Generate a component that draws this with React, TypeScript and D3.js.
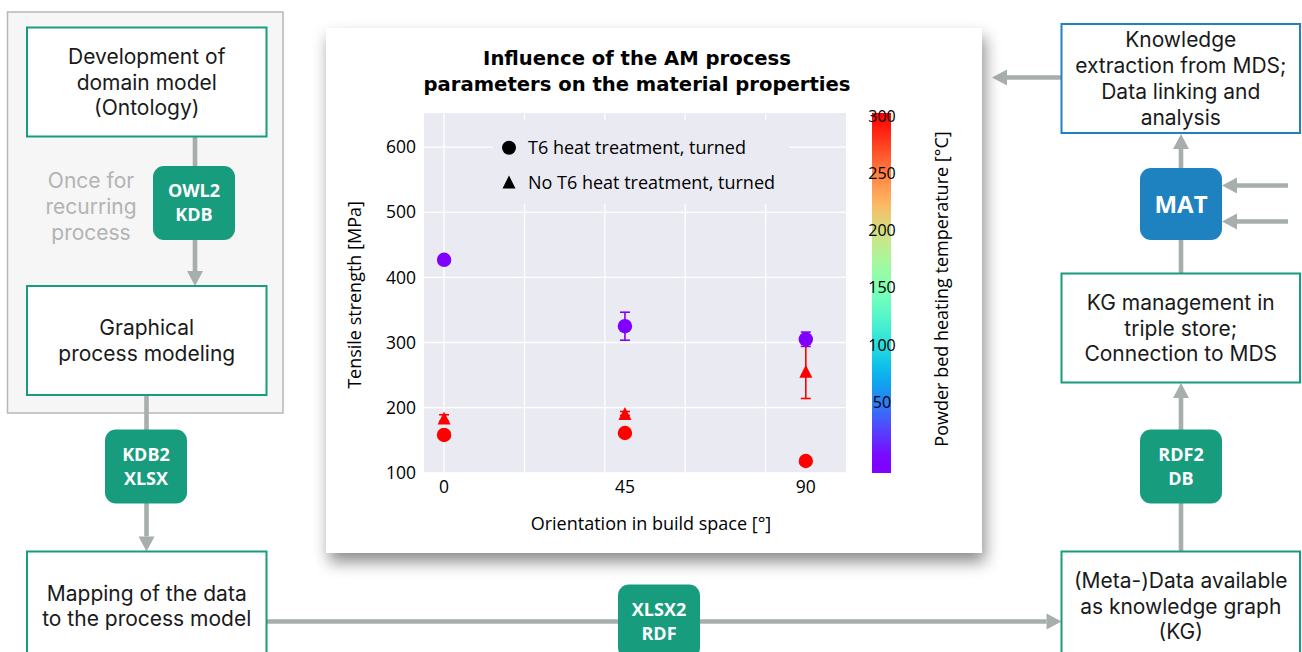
import React from "react";
import * as d3 from "d3";

// ---------- data ----------
const orientations = [0, 45, 90];
const t6LowTempStrength = [427, 325, 305];
const t6LowTempError = [0, 21.5, 11];
const t6HighTempStrength = [158, 161, 118];
const t6HighTempError = [0, 0, 0];
const noT6HighTempStrength = [184, 191, 256];
const noT6HighTempError = [5, 3, 42];
const lowHeatingTemp = 0;
const highHeatingTemp = 300;

const yTicks = [100, 200, 300, 400, 500, 600];
const xTickLabels = [0, 45, 90];
const xGridValues = [0, 20, 40, 60, 80];
const colorbarTicks = [50, 100, 150, 200, 250, 300];

const legendLabels = ["T6 heat treatment, turned", "No T6 heat treatment, turned"];
const titleLines = ["Influence of the AM process", "parameters on the material properties"];

// ---------- styles ----------
const GREEN = "#179c7d";
const BLUE = "#1f82c0";
const GRAY = "#a7afac";
const TEXT = "#1a1a1a";
const FONT = "'Open Sans', 'Noto Sans', sans-serif";
const BOX_FONT = "Inter, 'Open Sans', sans-serif";
const PLOT_BG = "#eaeaf2";

const mplRainbow = (t: number) => {
  const x = Math.max(0, Math.min(1, t));
  const r = Math.min(1, Math.abs(2 * x - 0.5));
  const g = Math.max(0, Math.sin(Math.PI * x));
  const b = Math.max(0, Math.cos((Math.PI * x) / 2));
  return d3.rgb(r * 255, g * 255, b * 255).formatHex();
};
const tempColor = (temp: number) => mplRainbow(temp / 300);

// ---------- helpers ----------
type Arrow = { x1: number; y1: number; x2: number; y2: number; head?: boolean };

function ArrowLine({ x1, y1, x2, y2, head = true }: Arrow) {
  const len = Math.hypot(x2 - x1, y2 - y1);
  const ux = (x2 - x1) / len;
  const uy = (y2 - y1) / len;
  const hl = head ? 15 : 0;
  const hw = 8;
  const bx = x2 - ux * hl;
  const by = y2 - uy * hl;
  return (
    <g>
      <line x1={x1} y1={y1} x2={bx} y2={by} stroke={GRAY} strokeWidth={4.6} />
      {head && (
        <polygon
          points={`${x2},${y2} ${bx - uy * hw},${by + ux * hw} ${bx + uy * hw},${by - ux * hw}`}
          fill={GRAY}
        />
      )}
    </g>
  );
}

function Box({ x, y, w, h, color, lines, cy, fill = "#fff" }: any) {
  const lh = 25.8;
  const c = cy ?? y + h / 2;
  return (
    <g>
      <rect x={x} y={y} width={w} height={h} fill={fill} stroke={color} strokeWidth={2} />
      {lines.map((l: string, i: number) => (
        <text
          key={i}
          x={x + w / 2}
          y={c + (i - (lines.length - 1) / 2) * lh + 7.5}
          textAnchor="middle"
          fontFamily={BOX_FONT}
          fontSize={21}
          fill={TEXT}
        >
          {l}
        </text>
      ))}
    </g>
  );
}

function Badge({ x, y, w, h, color, lines, size = 18 }: any) {
  const lh = 24;
  const c = y + h / 2;
  return (
    <g>
      <rect x={x} y={y} width={w} height={h} rx={11} fill={color} />
      {lines.map((l: string, i: number) => (
        <text
          key={i}
          x={x + w / 2}
          y={c + (i - (lines.length - 1) / 2) * lh + size * 0.36}
          textAnchor="middle"
          fontFamily={FONT}
          fontWeight={700}
          fontSize={size}
          fill="#fff"
        >
          {l}
        </text>
      ))}
    </g>
  );
}

export default function App() {
  // plot geometry
  const plotL = 424, plotR = 846, plotT = 113, plotB = 472.7;
  const x = d3.scaleLinear().domain([-5, 100]).range([plotL, plotR]);
  const y = d3.scaleLinear().domain([100, 652.5]).range([plotB, plotT]);
  const cbX = 872, cbW = 19, cbT = 113, cbB = 473;
  const cb = d3.scaleLinear().domain([-12, 303]).range([cbB, cbT]);

  const series = [
    { values: t6LowTempStrength, errors: t6LowTempError, temp: lowHeatingTemp, shape: "circle" },
    { values: t6HighTempStrength, errors: t6HighTempError, temp: highHeatingTemp, shape: "circle" },
    { values: noT6HighTempStrength, errors: noT6HighTempError, temp: highHeatingTemp, shape: "triangle" },
  ];

  const tri = (cx: number, cy: number, s: number) =>
    `M${cx},${cy - s / 2}L${cx + s / 2},${cy + s / 2}L${cx - s / 2},${cy + s / 2}Z`;

  const gradStops = d3.range(0, 1.0001, 0.05);

  return (
    <svg
      width={1302}
      height={652}
      style={{ position: "absolute", left: 0, top: 0, background: "#fff" }}
    >
      <defs>
        <filter id="shadow" x="-10%" y="-10%" width="125%" height="125%">
          <feDropShadow dx={3} dy={9} stdDeviation={8} floodColor="#000" floodOpacity={0.45} />
        </filter>
        <linearGradient id="cbgrad" x1="0" y1="1" x2="0" y2="0">
          {gradStops.map((t) => {
            const v = -12 + t * 315;
            return <stop key={t} offset={t} stopColor={mplRainbow(Math.max(0, v) / 300)} />;
          })}
        </linearGradient>
        <clipPath id="plotclip">
          <rect x={plotL} y={plotT} width={plotR - plotL} height={plotB - plotT} />
        </clipPath>
      </defs>

      {/* left group */}
      <rect x={7.5} y={12} width={275.5} height={401} fill="#f6f6f6" stroke="#b7b7b7" strokeWidth={1.5} />

      {/* connectors */}
      <ArrowLine x1={195} y1={137} x2={195} y2={286} />
      <ArrowLine x1={146.5} y1={395} x2={146.5} y2={551.5} />
      <ArrowLine x1={266} y1={621.5} x2={1061.5} y2={621.5} />
      <ArrowLine x1={1181} y1={551} x2={1181} y2={383} />
      <ArrowLine x1={1181} y1={273} x2={1181} y2={240} head={false} />
      <ArrowLine x1={1181} y1={168} x2={1181} y2={134} />
      <ArrowLine x1={1288} y1={185.5} x2={1222} y2={185.5} />
      <ArrowLine x1={1288} y1={221.5} x2={1222} y2={221.5} />
      <ArrowLine x1={1061} y1={77.5} x2={992} y2={77.5} />

      {/* left boxes */}
      <Box x={27} y={27.5} w={239.5} h={109} color={GREEN} lines={["Development of", "domain model", "(Ontology)"]} />
      <Box x={27} y={286} w={239.5} h={109} color={GREEN} lines={["Graphical", "process modeling"]} />
      <Box x={27} y={551.5} w={239.5} h={120} color={GREEN} cy={606} lines={["Mapping of the data", "to the process model"]} />
      {["Once for", "recurring", "process"].map((l, i) => (
        <text key={l} x={91} y={180 + i * 26 + 7.5} textAnchor="middle" fontFamily={BOX_FONT} fontSize={21} fill="#b3b3b3">
          {l}
        </text>
      ))}

      {/* right boxes */}
      <Box x={1061.5} y={24} w={238.5} h={109} color={BLUE} lines={["Knowledge", "extraction from MDS;", "Data linking and", "analysis"]} />
      <Box x={1061.5} y={273.5} w={238.5} h={109} color={GREEN} lines={["KG management in", "triple store;", "Connection to MDS"]} />
      <Box x={1061.5} y={551.5} w={238.5} h={120} color={GREEN} cy={606} lines={["(Meta-)Data available", "as knowledge graph", "(KG)"]} />

      {/* badges */}
      <Badge x={153} y={166} w={82} h={74} color={GREEN} lines={["OWL2", "KDB"]} />
      <Badge x={105} y={429.5} w={82} h={74} color={GREEN} lines={["KDB2", "XLSX"]} />
      <Badge x={618} y={584.5} w={82} h={74} color={GREEN} lines={["XLSX2", "RDF"]} />
      <Badge x={1140} y={429.5} w={82} h={74} color={GREEN} lines={["RDF2", "DB"]} />
      <Badge x={1140} y={168} w={82} h={72} color={BLUE} lines={["MAT"]} size={24} />

      {/* chart card */}
      <rect x={326} y={28} width={656} height={525} fill="#fff" filter="url(#shadow)" />

      {/* title */}
      {titleLines.map((t, i) => (
        <text
          key={t}
          x={637}
          y={65 + i * 26}
          textAnchor="middle"
          fontFamily="'DejaVu Sans', sans-serif"
          fontWeight={700}
          fontSize={19.6}
          fill="#000"
        >
          {t}
        </text>
      ))}

      {/* plot area */}
      <rect x={plotL} y={plotT} width={plotR - plotL} height={plotB - plotT} fill={PLOT_BG} />
      <g clipPath="url(#plotclip)">
        {yTicks.map((v) => (
          <line key={"gy" + v} x1={plotL} x2={plotR} y1={y(v)} y2={y(v)} stroke="#fff" strokeWidth={1.3} />
        ))}
        {xGridValues.map((v) => (
          <line key={"gx" + v} x1={x(v)} x2={x(v)} y1={plotT} y2={plotB} stroke="#fff" strokeWidth={1.3} />
        ))}
      </g>

      {/* legend */}
      <rect x={493} y={120} width={296} height={84} fill={PLOT_BG} />
      <circle cx={509} cy={147.7} r={7} fill="#000" />
      <path d={tri(509, 182, 13)} fill="#000" />
      {legendLabels.map((l, i) => (
        <text key={l} x={528} y={154 + i * 34.5} fontFamily={FONT} fontSize={18} fill="#000">
          {l}
        </text>
      ))}

      {/* error bars */}
      {series.map((s, si) =>
        s.values.map((v, i) => {
          const e = s.errors[i];
          if (!e) return null;
          const cx = x(orientations[i]);
          const col = tempColor(s.temp);
          return (
            <g key={`e${si}-${i}`} stroke={col} strokeWidth={1.6}>
              <line x1={cx} x2={cx} y1={y(v - e)} y2={y(v + e)} />
              <line x1={cx - 5} x2={cx + 5} y1={y(v - e)} y2={y(v - e)} />
              <line x1={cx - 5} x2={cx + 5} y1={y(v + e)} y2={y(v + e)} />
            </g>
          );
        })
      )}

      {/* markers */}
      {series.map((s, si) =>
        s.values.map((v, i) => {
          const cx = x(orientations[i]);
          const cy = y(v);
          const col = tempColor(s.temp);
          return s.shape === "circle" ? (
            <circle key={`m${si}-${i}`} cx={cx} cy={cy} r={7.2} fill={col} />
          ) : (
            <path key={`m${si}-${i}`} d={tri(cx, cy, 13)} fill={col} />
          );
        })
      )}

      {/* axes labels */}
      {yTicks.map((v) => (
        <text key={"ty" + v} x={416} y={y(v) + 6.2} textAnchor="end" fontFamily={FONT} fontSize={17.5} fill="#000">
          {v}
        </text>
      ))}
      {xTickLabels.map((v) => (
        <text key={"tx" + v} x={x(v)} y={493} textAnchor="middle" fontFamily={FONT} fontSize={17.5} fill="#000">
          {v}
        </text>
      ))}
      <text x={651} y={530} textAnchor="middle" fontFamily={FONT} fontSize={18} fill="#000">
        Orientation in build space [°]
      </text>
      <text
        transform="translate(361,295) rotate(-90)"
        textAnchor="middle"
        fontFamily={FONT}
        fontSize={18}
        fill="#000"
      >
        Tensile strength [MPa]
      </text>

      {/* colorbar */}
      <rect x={cbX} y={cbT} width={cbW} height={cbB - cbT} fill="url(#cbgrad)" />
      {colorbarTicks.map((v) => (
        <text key={"cb" + v} x={882} y={cb(v) + 5.5} textAnchor="middle" fontFamily={FONT} fontSize={16} fill="#000">
          {v}
        </text>
      ))}
      <text
        transform="translate(948,289) rotate(-90)"
        textAnchor="middle"
        fontFamily={FONT}
        fontSize={18}
        fill="#000"
      >
        Powder bed heating temperature [°C]
      </text>
    </svg>
  );
}
